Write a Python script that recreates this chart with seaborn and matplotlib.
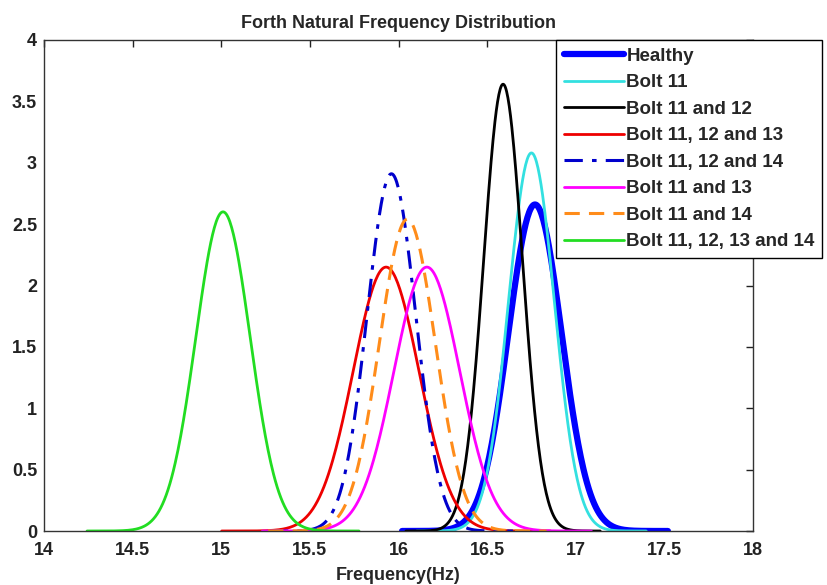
import numpy as np
import pandas as pd
import matplotlib
matplotlib.use('Agg')
import matplotlib.pyplot as plt
from matplotlib.ticker import FuncFormatter
import seaborn as sns

# curve parameters (normal fits)
labels = ['Healthy', 'Bolt 11', 'Bolt 11 and 12', 'Bolt 11, 12 and 13',
          'Bolt 11, 12 and 14', 'Bolt 11 and 13', 'Bolt 11 and 14',
          'Bolt 11, 12, 13 and 14']
means = [16.77, 16.75, 16.59, 15.93, 15.96, 16.16, 16.05, 15.01]
peaks = [2.66, 3.08, 3.64, 2.15, 2.91, 2.15, 2.54, 2.60]

colors = ['#0000FF', '#33E0E0', '#000000', '#EE0000', '#0000CC',
          '#FF00FF', '#FF8C1A', '#22DD22']
styles = ['-', '-', '-', '-', (0, (6, 3, 1.5, 3)), '-', (0, (5, 3)), '-']
widths = [4.5, 2.0, 2.0, 2.0, 2.2, 2.0, 2.2, 2.0]

sns.set_style('white')
plt.rcParams['font.family'] = ['Liberation Sans', 'DejaVu Sans']
plt.rcParams['font.weight'] = 'bold'

fig = plt.figure(figsize=(8.27, 5.85), dpi=100)
ax = fig.add_axes([44 / 827, 1 - 531 / 585, (753 - 44) / 827, (531 - 40) / 585])

# normal pdf over mean +/- 5 sigma, like the original MATLAB plot
for lab, mu, pk, c, ls, lw in zip(labels, means, peaks, colors, styles, widths):
    sd = 1 / (pk * np.sqrt(2 * np.pi))
    x = np.linspace(mu - 5 * sd, mu + 5 * sd, 300)
    df = pd.DataFrame({'x': x, 'y': np.exp(-0.5 * ((x - mu) / sd) ** 2) / (sd * np.sqrt(2 * np.pi))})
    sns.lineplot(data=df, x='x', y='y', ax=ax, color=c, linestyle=ls,
                 linewidth=lw, label=lab, sort=False)

ax.set_xlim(14, 18)
ax.set_ylim(0, 4)
ax.set_xticks(np.arange(14, 18.01, 0.5))
ax.set_yticks(np.arange(0, 4.01, 0.5))
fmt = FuncFormatter(lambda v, p: '%g' % v)
ax.xaxis.set_major_formatter(fmt)
ax.yaxis.set_major_formatter(fmt)
ax.tick_params(direction='in', length=5, width=1, top=True, right=True,
               labelsize=13, colors='#222222')
ax.tick_params(axis='x', pad=8)
ax.tick_params(axis='y', pad=5)
for lab in ax.get_xticklabels() + ax.get_yticklabels():
    lab.set_fontweight('bold')
for s in ax.spines.values():
    s.set_color('#333333')
    s.set_linewidth(1)

ax.set_xlabel('Frequency(Hz)', fontsize=13, fontweight='bold', labelpad=6)
ax.set_ylabel('')
ax.set_title('Forth Natural Frequency Distribution', fontsize=13,
             fontweight='bold', pad=9)

leg = ax.legend(loc='upper left', bbox_to_anchor=(556 / 827, 1 - 40 / 585),
                bbox_transform=fig.transFigure, frameon=True, fancybox=False,
                edgecolor='black', framealpha=1, borderaxespad=0,
                prop={'size': 13.5, 'weight': 'bold'}, handlelength=3.2,
                handletextpad=0.15, labelspacing=0.5, borderpad=0.4)
leg.get_frame().set_linewidth(1)

fig.savefig('out.png', dpi=100)
